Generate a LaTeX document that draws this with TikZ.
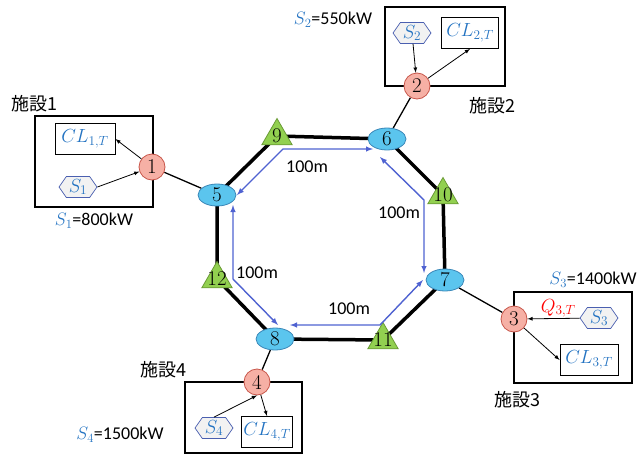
\documentclass[tikz,border=0pt]{standalone}
\usepackage{fix-cm}
\usepackage{fontspec}
\usepackage{tikz}
\usetikzlibrary{shapes.geometric, shapes.symbols, arrows, positioning, calc, backgrounds}
\newfontfamily\jpfont{Noto Sans CJK JP}
\newfontfamily\lblfont{Carlito}
\newcommand\numfont{\rmfamily\fontsize{21}{22}\selectfont}
\definecolor{sblue}{HTML}{2373C2}
\definecolor{hexline}{HTML}{4A5FB0}
\definecolor{hexfill}{HTML}{F2F2F2}
\definecolor{connfill}{HTML}{F6B0A5}
\definecolor{connline}{HTML}{C8564A}
\definecolor{hubfill}{HTML}{5BC5EE}
\definecolor{hubline}{HTML}{3A87B8}
\definecolor{relayfill}{HTML}{92D050}
\definecolor{relayline}{HTML}{6A9A35}
\definecolor{ring}{HTML}{4F62D1}

\begin{document}
\begin{tikzpicture}[
  x=1pt, y=-1pt,
  sitebox/.style={rectangle, draw=black, line width=1.6pt, inner sep=0pt},
  loadbox/.style={rectangle, draw=black, line width=0.8pt, fill=white, minimum height=31pt, inner sep=0pt, text=sblue, font=\fontsize{19}{21}\selectfont},
  srchex/.style={signal, signal to=west and east, signal pointer angle=110, draw=hexline, fill=hexfill, line width=0.7pt, minimum width=38pt, minimum height=21pt, inner sep=0pt, text=sblue, font=\fontsize{19}{21}\selectfont},
  conn/.style={circle, draw=connline, fill=connfill, line width=0.8pt, minimum size=26pt, inner sep=0pt, font=\numfont},
  hub/.style={ellipse, draw=hubline, fill=hubfill, line width=0.8pt, minimum width=38pt, minimum height=22pt, inner sep=0pt, font=\numfont},
  relay/.style={regular polygon, regular polygon sides=3, draw=relayline, fill=relayfill, line width=0.8pt, minimum size=35pt, inner sep=0pt, label={[font=\numfont, inner sep=0pt]center:#1}},
  pipe/.style={line width=3.5pt, line join=miter},
  link/.style={line width=1.3pt},
  arrow/.style={->, >=latex, line width=0.8pt},
  dist/.style={<->, >=latex, line width=1.4pt, color=ring},
  dlabel/.style={font=\lblfont\fontsize{18}{20}\selectfont},
  capnote/.style={font=\lblfont\fontsize{18}{20}\selectfont},
  sitename/.style={font=\jpfont\fontsize{18}{20}\selectfont}
]
\useasboundingbox (0,0) rectangle (642,455);

% facilities
\node[sitebox, minimum width=118pt, minimum height=91pt] (site1) at (94,161.5) {};
\node[sitebox, minimum width=120pt, minimum height=79pt] (site2) at (445,46.5) {};
\node[sitebox, minimum width=118pt, minimum height=91pt] (site3) at (573,337.5) {};
\node[sitebox, minimum width=117pt, minimum height=71pt] (site4) at (243.5,417.5) {};

\node[sitename] (t1) at (34,104) {施設1};
\node[sitename] (t2) at (492,106) {施設2};
\node[sitename] (t3) at (517,400) {施設3};
\node[sitename] (t4) at (163,370) {施設4};

% loads and sources
\node[loadbox, minimum width=60pt] (cl1) at (85,139) {$CL_{1,T}$};
\node[loadbox, minimum width=57pt] (cl2) at (470,33) {$CL_{2,T}$};
\node[loadbox, minimum width=58pt] (cl3) at (589,360) {$CL_{3,T}$};
\node[loadbox, minimum width=51pt] (cl4) at (267,432) {$CL_{4,T}$};

\node[srchex] (s1) at (78,187) {$S_1$};
\node[srchex] (s2) at (412,33) {$S_2$};
\node[srchex] (s3) at (599,318) {$S_3$};
\node[srchex] (s4) at (214,428) {$S_4$};

% connection points
\node[conn] (c1) at (152,167) {1};
\node[conn] (c2) at (417,86) {2};
\node[conn] (c3) at (514,319) {3};
\node[conn] (c4) at (257,382) {4};

% ring
\node[hub] (n5) at (217,195) {5};
\node[hub] (n6) at (387,139) {6};
\node[hub] (n7) at (445,280) {7};
\node[hub] (n8) at (275,339) {8};
\node[relay=9] (n9) at (277,136) {};
\node[relay=10] (n10) at (443,195) {};
\node[relay=11] (n11) at (383,340) {};
\node[relay=12] (n12) at (217,279) {};

\begin{scope}[on background layer]
  \draw[pipe] (n5.center) -- (n9.center) -- (n6.center) -- (n10.center) -- (n7.center)
    -- (n11.center) -- (n8.center) -- (n12.center) -- cycle;
  \draw[link] (c1) -- (n5);
  \draw[link] (c2) -- (n6);
  \draw[link] (c3) -- (n7);
  \draw[link] (c4) -- (n8);
\end{scope}

% distances
\draw[dist] ($(n5)+(20,0)$) -- (283,149) -- ($(n6)+(-14,10)$);
\draw[dist] ($(n6)+(-7,18)$) -- (424,200) -- ($(n7)+(-21,-7)$);
\draw[dist] ($(n7)+(-22,0)$) -- (380,325) -- ($(n8)+(15,-14)$);
\draw[dist] ($(n8)+(3,-14)$) -- (233,279) -- ($(n5)+(16,10)$);
\node[dlabel] (d1) at (307,167) {100m};
\node[dlabel] (d2) at (399,213) {100m};
\node[dlabel] (d3) at (349,309) {100m};
\node[dlabel] (d4) at (257,273) {100m};

% flows inside facilities
\draw[arrow] (s1.east) -- (c1);
\draw[arrow] (c1) -- (cl1.east);
\draw[arrow] (s2) -- (c2);
\draw[arrow] (c2) -- (cl2.south);
\draw[arrow] (s3) -- node[above, pos=0.41, inner sep=0.5pt, text=red, font=\fontsize{19}{21}\selectfont]{$Q_{3,T}$} (c3);
\draw[arrow] (c3) -- (cl3.west);
\draw[arrow] (s4.north) -- (c4.south);
\draw[arrow] (c4) -- (cl4.north);

% supply capacities
\node[capnote, below=2pt of site1] (p1) {{\color{sblue}$S_1$}=800kW};
\node[capnote] (p2) at (333,20) {{\color{sblue}$S_2$}=550kW};
\node[capnote] (p3) at (593,280) {{\color{sblue}$S_3$}=1400kW};
\node[capnote] (p4) at (120,435) {{\color{sblue}$S_4$}=1500kW};

\end{tikzpicture}
\end{document}
